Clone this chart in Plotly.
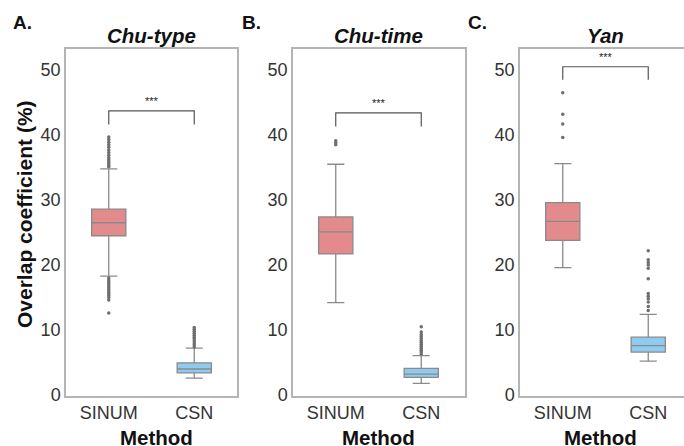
import plotly.graph_objects as go

# ---------------- data ----------------
methods = ["SINUM", "CSN"]
panels = ["Chu-type", "Chu-time", "Yan"]
panel_letters = ["A.", "B.", "C."]

# box statistics per panel: [SINUM, CSN]
q1 = {"Chu-type": [24.5, 3.4], "Chu-time": [21.7, 2.7], "Yan": [23.8, 6.6]}
median = {"Chu-type": [26.5, 4.0], "Chu-time": [25.1, 3.2], "Yan": [26.7, 7.6]}
q3 = {"Chu-type": [28.6, 4.95], "Chu-time": [27.4, 4.1], "Yan": [29.6, 8.9]}
lowerfence = {"Chu-type": [18.3, 2.6], "Chu-time": [14.2, 1.8], "Yan": [19.6, 5.2]}
upperfence = {"Chu-type": [34.8, 7.2], "Chu-time": [35.5, 6.05], "Yan": [35.6, 12.4]}

outliers_sinum = {
    "Chu-type": [39.7, 39.3, 38.9, 38.5, 38.1, 37.7, 37.3, 36.9, 36.5, 36.2, 35.9, 35.6, 35.3, 35.1,
                 18.0, 17.7, 17.4, 17.1, 16.8, 16.5, 16.2, 15.9, 15.6, 15.3, 15.0, 14.6, 12.6],
    "Chu-time": [39.1, 38.8, 38.5],
    "Yan": [46.5, 43.2, 41.7, 39.6],
}
outliers_csn = {
    "Chu-type": [7.4, 7.7, 8.0, 8.3, 8.6, 8.9, 9.2, 9.5, 9.8, 10.1, 10.4],
    "Chu-time": [6.3, 6.6, 6.9, 7.2, 7.5, 7.8, 8.1, 8.4, 8.7, 9.0, 9.3, 9.7, 10.5],
    "Yan": [22.2, 20.8, 20.4, 20.0, 19.5, 17.9, 15.6, 15.2, 14.8, 14.3, 13.6, 13.0],
}

# significance bracket: [bar height, arm bottom, star height]
bracket = {"Chu-type": [43.7, 41.6, 45.3], "Chu-time": [43.4, 41.3, 45.0], "Yan": [50.5, 48.5, 52.0]}

y_ticks = [0, 10, 20, 30, 40, 50]
y_range = [-0.15, 53.23]

# ---------------- style ----------------
W, H = 684, 446
fill_colors = ["#E38A8D", "#8FCBEF"]
line_gray = "#8a8a8a"
frame_gray = "#b4b4b4"
font_fam = "Arial, Liberation Sans, sans-serif"

# panel pixel geometry (left, right) ; panel C is clipped by the page edge
px_left = [66, 293, 520]
px_right = [237, 465, 684]
full_width = 171.0
y_top_px, y_bot_px = 49, 396

fig = go.Figure()

for i, p in enumerate(panels):
    xa = "x" if i == 0 else f"x{i+1}"
    ya = "y" if i == 0 else f"y{i+1}"
    for j, m in enumerate(methods):
        fig.add_trace(go.Box(
            x=[m], q1=[q1[p][j]], median=[median[p][j]], q3=[q3[p][j]],
            lowerfence=[lowerfence[p][j]], upperfence=[upperfence[p][j]],
            boxpoints=False, width=0.4, whiskerwidth=0.5,
            fillcolor=fill_colors[j], line=dict(color=line_gray, width=1.3),
            xaxis=xa, yaxis=ya, showlegend=False, hoverinfo="skip",
        ))
    for j, outs in enumerate([outliers_sinum[p], outliers_csn[p]]):
        fig.add_trace(go.Scatter(
            x=[methods[j]] * len(outs), y=outs, mode="markers",
            marker=dict(size=3.5, color="#6e6e6e"),
            xaxis=xa, yaxis=ya, showlegend=False, hoverinfo="skip",
        ))
    # bracket
    b = bracket[p]
    fig.add_trace(go.Scatter(
        x=[methods[0], methods[0], methods[1], methods[1]],
        y=[b[1], b[0], b[0], b[1]], mode="lines",
        line=dict(color="#555555", width=1.2),
        xaxis=xa, yaxis=ya, showlegend=False, hoverinfo="skip",
    ))
    fig.add_annotation(x=0.5, y=b[2], xref=xa, yref=ya, text="***", showarrow=False,
                       font=dict(size=11, color="#222222", family=font_fam))

    x0 = px_left[i] / W
    x1 = px_right[i] / W
    visible_w = px_right[i] - px_left[i]
    xmax = -0.5 + 2.0 * visible_w / full_width
    xaxis_cfg = dict(
        domain=[x0, x1], range=[-0.5, xmax], type="category",
        categoryorder="array", categoryarray=methods,
        showline=True, mirror=True, linecolor=frame_gray, linewidth=1.5,
        showgrid=False, zeroline=False, ticks="", automargin=False,
        tickfont=dict(size=18, color="#333333", family=font_fam),
        anchor=ya,
    )
    yaxis_cfg = dict(
        domain=[1 - y_bot_px / H, 1 - y_top_px / H], range=y_range,
        tickvals=y_ticks, showline=True, mirror=(i < 2), linecolor=frame_gray, linewidth=1.5,
        showgrid=False, zeroline=False, ticks="", automargin=False,
        tickfont=dict(size=18, color="#333333", family=font_fam),
        anchor=xa,
    )
    fig.update_layout(**{("xaxis" if i == 0 else f"xaxis{i+1}"): xaxis_cfg,
                         ("yaxis" if i == 0 else f"yaxis{i+1}"): yaxis_cfg})

    center_px = px_left[i] + full_width / 2
    # panel title
    fig.add_annotation(x=center_px / W, y=1 - 35 / H, xref="paper", yref="paper",
                       text=f"<b><i>{p}</i></b>", showarrow=False,
                       font=dict(size=20.5, color="#111111", family=font_fam),
                       xanchor="center", yanchor="middle")
    # panel letter
    letter_x = [11, 240, 466][i]
    fig.add_annotation(x=letter_x / W, y=1 - 22 / H, xref="paper", yref="paper",
                       text=f"<b>{panel_letters[i]}</b>", showarrow=False,
                       font=dict(size=19, color="#111111", family=font_fam),
                       xanchor="left", yanchor="middle")
    # x title
    mx = [156, 378, 600][i]
    fig.add_annotation(x=mx / W, y=1 - 437 / H, xref="paper", yref="paper",
                       text="<b>Method</b>", showarrow=False,
                       font=dict(size=20.5, color="#111111", family=font_fam),
                       xanchor="center", yanchor="middle")

# y title
fig.add_annotation(x=24 / W, y=1 - 214 / H, xref="paper", yref="paper",
                   text="<b>Overlap coefficient (%)</b>", showarrow=False, textangle=-90,
                   font=dict(size=21, color="#111111", family=font_fam),
                   xanchor="center", yanchor="middle")

fig.update_layout(
    width=W, height=H, margin=dict(l=0, r=0, t=0, b=0, autoexpand=False),
    paper_bgcolor="white", plot_bgcolor="white",
    boxmode="overlay", showlegend=False,
)

fig.write_html("out.html")
